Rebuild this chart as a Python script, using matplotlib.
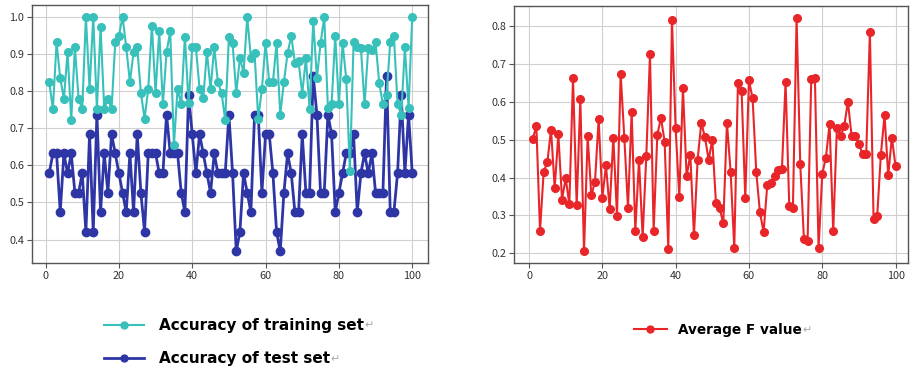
import matplotlib
matplotlib.use("Agg")
import matplotlib.pyplot as plt
import numpy as np

# ---------------- data ----------------
epochs = list(range(1, 101))

train_acc = [0.824, 0.752, 0.931, 0.835, 0.779, 0.905, 0.723, 0.918, 0.780, 0.752,
             1.000, 0.806, 1.000, 0.752, 0.972, 0.752, 0.780, 0.752, 0.931, 0.949,
             1.000, 0.918, 0.824, 0.905, 0.918, 0.795, 0.726, 0.806, 0.976, 0.795,
             0.961, 0.765, 0.905, 0.961, 0.654, 0.806, 0.765, 0.947, 0.767, 0.918,
             0.918, 0.806, 0.781, 0.905, 0.806, 0.918, 0.824, 0.795, 0.722, 0.947,
             0.929, 0.795, 0.889, 0.850, 1.000, 0.889, 0.902, 0.726, 0.806, 0.929,
             0.824, 0.824, 0.929, 0.737, 0.824, 0.902, 0.949, 0.877, 0.880, 0.793,
             0.889, 0.752, 0.990, 0.835, 0.929, 1.000, 0.755, 0.764, 0.949, 0.764,
             0.929, 0.833, 0.585, 0.931, 0.920, 0.916, 0.764, 0.916, 0.911, 0.931,
             0.822, 0.764, 0.790, 0.931, 0.949, 0.764, 0.737, 0.918, 0.755, 1.000]

test_acc = [0.579, 0.632, 0.632, 0.474, 0.632, 0.579, 0.632, 0.526, 0.526, 0.579,
            0.421, 0.684, 0.421, 0.737, 0.474, 0.632, 0.526, 0.684, 0.632, 0.579,
            0.526, 0.474, 0.632, 0.474, 0.684, 0.526, 0.421, 0.632, 0.632, 0.632,
            0.579, 0.579, 0.737, 0.632, 0.632, 0.632, 0.526, 0.474, 0.789, 0.684,
            0.579, 0.684, 0.632, 0.579, 0.526, 0.632, 0.579, 0.579, 0.579, 0.737,
            0.579, 0.368, 0.421, 0.579, 0.526, 0.474, 0.737, 0.737, 0.526, 0.684,
            0.684, 0.579, 0.421, 0.368, 0.526, 0.632, 0.579, 0.474, 0.474, 0.684,
            0.526, 0.526, 0.842, 0.737, 0.526, 0.526, 0.737, 0.684, 0.474, 0.526,
            0.579, 0.632, 0.632, 0.684, 0.474, 0.579, 0.632, 0.579, 0.632, 0.526,
            0.526, 0.526, 0.842, 0.474, 0.474, 0.579, 0.789, 0.579, 0.737, 0.579]

avg_f = [0.502, 0.536, 0.259, 0.416, 0.440, 0.527, 0.373, 0.514, 0.342, 0.398,
         0.330, 0.664, 0.327, 0.607, 0.205, 0.509, 0.353, 0.389, 0.555, 0.347,
         0.432, 0.317, 0.506, 0.299, 0.674, 0.506, 0.320, 0.573, 0.259, 0.447,
         0.243, 0.458, 0.726, 0.259, 0.513, 0.558, 0.495, 0.212, 0.816, 0.530,
         0.349, 0.636, 0.403, 0.461, 0.247, 0.447, 0.545, 0.507, 0.447, 0.500,
         0.333, 0.319, 0.279, 0.545, 0.416, 0.213, 0.651, 0.629, 0.345, 0.657,
         0.610, 0.415, 0.308, 0.256, 0.380, 0.385, 0.403, 0.419, 0.422, 0.654,
         0.325, 0.319, 0.822, 0.436, 0.238, 0.231, 0.660, 0.664, 0.213, 0.410,
         0.453, 0.542, 0.259, 0.532, 0.510, 0.536, 0.601, 0.511, 0.510, 0.489,
         0.462, 0.462, 0.785, 0.291, 0.299, 0.461, 0.566, 0.406, 0.506, 0.430]

label_train = "Accuracy of training set"
label_test = "Accuracy of test set"
label_f = "Average F value"
xticks = [0, 20, 40, 60, 80, 100]
left_yticks = [0.4, 0.5, 0.6, 0.7, 0.8, 0.9, 1.0]
right_yticks = [0.2, 0.3, 0.4, 0.5, 0.6, 0.7, 0.8]

# ---------------- style ----------------
C_TRAIN = "#38c0bb"
C_TEST = "#2e36a6"
C_F = "#e8262a"
TICK_FONT = ["Noto Sans CJK JP", "DejaVu Sans"]

fig = plt.figure(figsize=(9.11, 3.75), dpi=100)
ax1 = fig.add_axes([32 / 911, 1 - 263 / 375, 396 / 911, 258 / 375])
ax2 = fig.add_axes([514 / 911, 1 - 263 / 375, 394 / 911, 257 / 375])

l1, = ax1.plot(epochs, train_acc, color=C_TRAIN, lw=1.5, marker="o", ms=5.5,
               label=label_train, zorder=3)
l2, = ax1.plot(epochs, test_acc, color=C_TEST, lw=2.0, marker="o", ms=6,
               label=label_test, zorder=2)
l3, = ax2.plot(epochs, avg_f, color=C_F, lw=1.5, marker="o", ms=5.5,
               label=label_f, zorder=3)

for ax, yt in ((ax1, left_yticks), (ax2, right_yticks)):
    ax.set_xticks(xticks)
    ax.set_yticks(yt)
    ax.set_yticklabels([f"{v:.1f}" for v in yt])
    ax.grid(True, color="#d0d0d0", lw=0.8)
    ax.set_axisbelow(True)
    for s in ax.spines.values():
        s.set_color("#555555")
        s.set_linewidth(1.0)
    ax.tick_params(axis="both", length=3.5, width=0.8, color="#555555",
                   labelsize=7.8, labelcolor="#333333", pad=2)
    for lab in ax.get_xticklabels() + ax.get_yticklabels():
        lab.set_family(TICK_FONT)

ax1.set_xlim(-3.7, 104.3)
ax1.set_ylim(0.337, 1.032)
ax2.set_xlim(-4.1, 103.4)
ax2.set_ylim(0.174, 0.854)

# ---------------- legends ----------------
leg_font1 = {"family": ["DejaVu Sans"], "weight": "bold", "size": 11}
leg_font2 = {"family": ["DejaVu Sans"], "weight": "bold", "size": 9.8}
leg1 = fig.legend(handles=[l1, l2], loc="upper left",
                  bbox_to_anchor=(104 / 911, 1 - 318 / 375), frameon=False,
                  prop=leg_font1, labelspacing=1.2, handlelength=2.65,
                  handletextpad=0.95, borderaxespad=0, borderpad=0)
leg2 = fig.legend(handles=[l3], loc="upper left",
                  bbox_to_anchor=(634 / 911, 1 - 323 / 375), frameon=False,
                  prop=leg_font2, handlelength=2.4, handletextpad=0.85,
                  borderaxespad=0, borderpad=0)
for lg in (leg1, leg2):
    for h in lg.legend_handles:
        h.set_markersize(5)

# paragraph marks after each legend label (light grey)
fig.canvas.draw()
renderer = fig.canvas.get_renderer()
for lg in (leg1, leg2):
    for t in lg.get_texts():
        bb = t.get_window_extent(renderer)
        x = bb.x1 / fig.bbox.width
        y = (bb.y0 + bb.y1) / 2 / fig.bbox.height
        fig.text(x, y, "\u21b5", color="#aaaaaa", fontsize=8,
                 family=["DejaVu Sans"], va="center", ha="left")

fig.savefig("out.png", dpi=100)
